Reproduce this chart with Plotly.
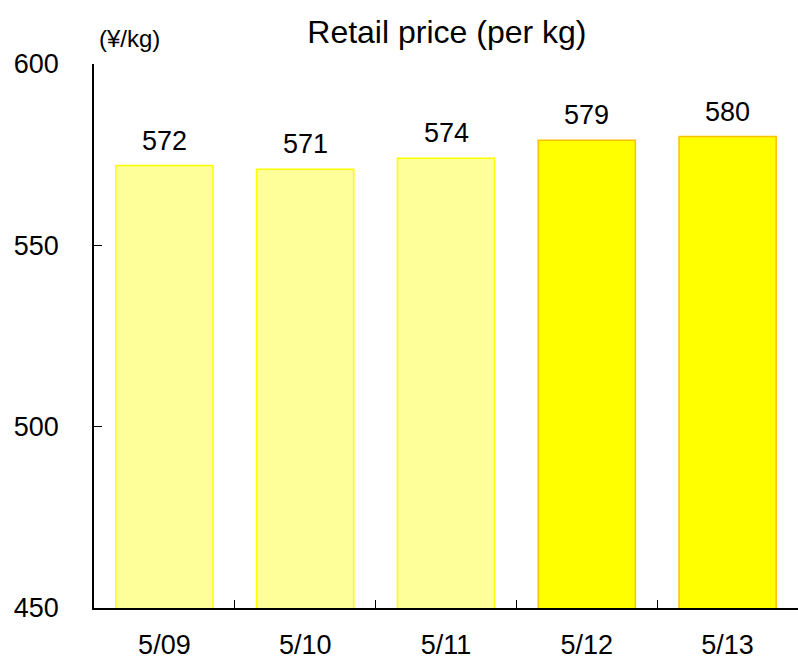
import plotly.graph_objects as go

dates = ["5/09", "5/10", "5/11", "5/12", "5/13"]
prices = [572, 571, 574, 579, 580]
fill_colors = ["#FFFF99", "#FFFF99", "#FFFF99", "#FFFF00", "#FFFF00"]
line_colors = ["#FFFF00", "#FFFF00", "#FFFF00", "#FFC000", "#FFC000"]

FONT = "Liberation Sans, Arial"

fig = go.Figure(go.Bar(
    x=dates, y=prices,
    marker=dict(color=fill_colors, line=dict(color=line_colors, width=1.5)),
    cliponaxis=False,
))

annotations = [dict(x=d, y=p, xref="x", yref="y", text=str(p), showarrow=False,
                    yanchor="bottom", yshift=8, font=dict(size=27, family=FONT))
               for d, p in zip(dates, prices)]
annotations.append(dict(text="(¥/kg)", xref="paper", yref="paper", x=0.05, y=1.0,
                        xanchor="center", yanchor="bottom", yshift=10, showarrow=False,
                        font=dict(size=24, family=FONT)))

fig.update_layout(
    width=798, height=662,
    margin=dict(l=94, r=0, t=64, b=54),
    paper_bgcolor="white", plot_bgcolor="white",
    bargap=0.31,
    font=dict(family=FONT, size=27, color="#000000"),
    title=dict(text="Retail price (per kg)", x=0.56, xanchor="center", y=0.952, yanchor="middle",
               font=dict(size=32)),
    showlegend=False,
    xaxis=dict(showline=True, linecolor="#000000", linewidth=1.5, ticks="inside",
               tickson="boundaries", ticklen=8, tickcolor="#000000",
               showgrid=False, zeroline=False, ticklabelstandoff=12),
    yaxis=dict(range=[450, 600], tickvals=[450, 500, 550, 600], showline=True,
               linecolor="#000000", linewidth=1.5, ticks="inside", ticklen=8,
               tickcolor="#000000", showgrid=False, zeroline=False, ticklabelstandoff=28),
    annotations=annotations,
)

fig.write_html("out.html")
